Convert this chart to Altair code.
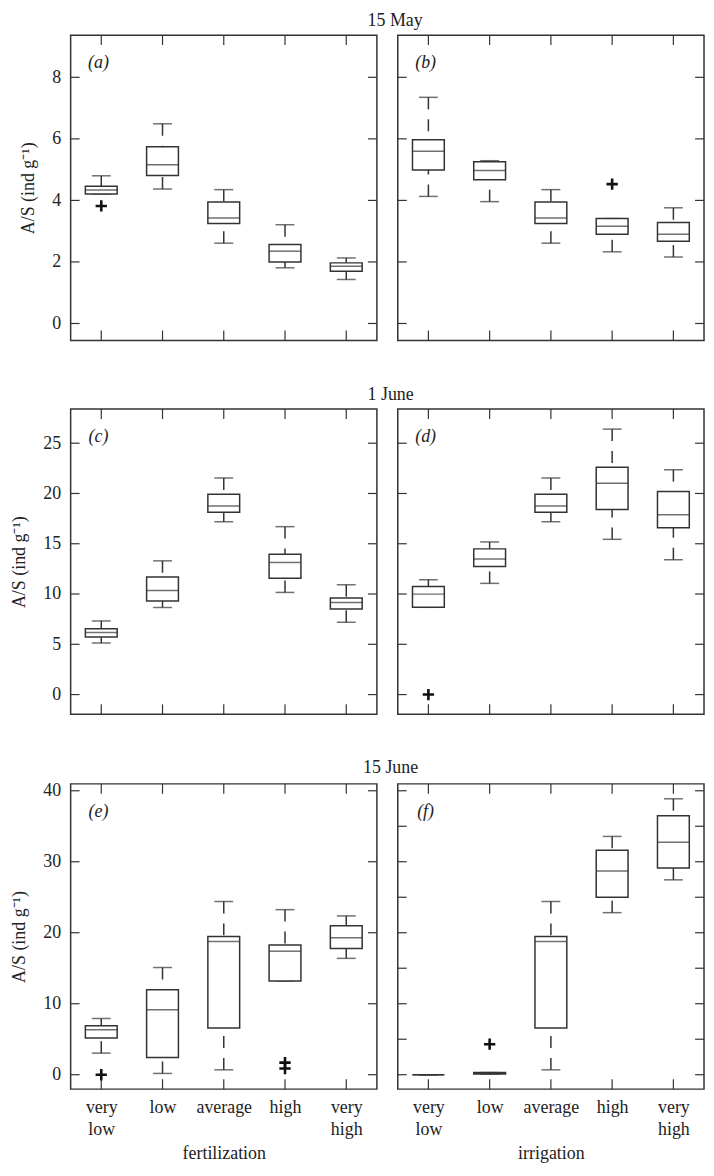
import altair as alt
import pandas as pd

cats = ["very low", "low", "average", "high", "very high"]

# panel (a) fertilization, 15 May
a_lo = [4.21, 4.37, 2.61, 1.81, 1.43]
a_q1 = [4.21, 4.81, 3.25, 2.00, 1.70]
a_med = [4.34, 5.16, 3.43, 2.35, 1.86]
a_q3 = [4.46, 5.74, 3.95, 2.57, 1.97]
a_hi = [4.80, 6.49, 4.35, 3.21, 2.13]
a_out_cat = ["very low"]
a_out_val = [3.82]

# panel (b) irrigation, 15 May
b_lo = [4.13, 3.96, 2.61, 2.33, 2.16]
b_q1 = [4.99, 4.67, 3.25, 2.90, 2.67]
b_med = [5.60, 4.97, 3.43, 3.16, 2.90]
b_q3 = [5.97, 5.26, 3.95, 3.41, 3.28]
b_hi = [7.35, 5.29, 4.35, 3.41, 3.76]
b_out_cat = ["high"]
b_out_val = [4.53]

# panel (c) fertilization, 1 June
c_lo = [5.13, 8.66, 17.19, 10.16, 7.19]
c_q1 = [5.72, 9.31, 18.14, 11.57, 8.50]
c_med = [6.18, 10.36, 18.76, 13.14, 9.15]
c_q3 = [6.54, 11.70, 19.93, 13.95, 9.61]
c_hi = [7.32, 13.30, 21.54, 16.70, 10.92]
c_out_cat = []
c_out_val = []

# panel (d) irrigation, 1 June
d_lo = [8.68, 11.06, 17.19, 15.44, 13.41]
d_q1 = [8.68, 12.73, 18.14, 18.41, 16.58]
d_med = [9.99, 13.48, 18.76, 21.02, 17.88]
d_q3 = [10.74, 14.49, 19.93, 22.62, 20.20]
d_hi = [11.42, 15.18, 21.54, 26.40, 22.36]
d_out_cat = ["very low"]
d_out_val = [0.0]

# panel (e) fertilization, 15 June
e_lo = [3.04, 0.18, 0.69, 13.21, 16.39]
e_q1 = [5.16, 2.44, 6.58, 13.21, 17.77]
e_med = [6.35, 9.16, 18.78, 17.40, 19.29]
e_q3 = [6.90, 11.97, 19.47, 18.27, 20.99]
e_hi = [7.92, 15.10, 24.40, 23.25, 22.37]
e_out_cat = ["very low", "high", "high"]
e_out_val = [0.0, 1.70, 0.87]

# panel (f) irrigation, 15 June
f_lo = [0.0, 0.1, 0.69, 22.83, 27.45]
f_q1 = [0.0, 0.1, 6.58, 25.01, 29.13]
f_med = [0.0, 0.2, 18.78, 28.68, 32.75]
f_q3 = [0.0, 0.3, 19.47, 31.62, 36.47]
f_hi = [0.0, 0.3, 24.40, 33.57, 38.87]
f_out_cat = ["low"]
f_out_val = [4.30]

ticks_ab = [0, 2, 4, 6, 8]
ticks_cd = [0, 5, 10, 15, 20, 25]
ticks_e = [0, 10, 20, 30, 40]
ticks_f = [0, 5, 10, 15, 20, 25, 30, 35, 40]

dom_ab = [-0.55, 9.37]
dom_cd = [-1.96, 28.4]
dom_ef = [-2.03, 40.97]

W = 308
H = 307
FONT = "Liberation Serif"
INK = "#333333"
YTITLE = "A/S (ind g\u207b\u00b9)"


def panel(label, lo, q1, med, q3, hi, out_cat, out_val, ydom, yticks,
          ylabels, xlabels, xtitle):
    df = pd.DataFrame({"cat": cats, "lo": lo, "q1": q1, "med": med,
                       "q3": q3, "hi": hi})
    odf = pd.DataFrame({"cat": out_cat, "v": out_val})
    tdf = pd.DataFrame({"t": yticks})
    cdf = pd.DataFrame({"cat": cats})

    xscale = alt.Scale(type="point", domain=cats, padding=0.5)
    yscale = alt.Scale(domain=ydom, nice=False, zero=False)
    if xlabels:
        xaxis = alt.Axis(title=xtitle, labelExpr="split(datum.label, ' ')",
                         labelAngle=0, labelPadding=10, labelLineHeight=22,
                         labelBaseline="top", titlePadding=6)
    else:
        xaxis = None
    if ylabels:
        yaxis = alt.Axis(title=YTITLE, values=yticks, labelPadding=10,
                         titlePadding=14)
    else:
        yaxis = None

    def X(f="cat"):
        return alt.X(f + ":N", scale=xscale, axis=xaxis, title=xtitle)

    def Y(f):
        return alt.Y(f + ":Q", scale=yscale, axis=yaxis, title=YTITLE)

    base = alt.Chart(df)
    up_wh = base.mark_rule(color=INK, strokeWidth=1.5, strokeDash=[12, 10]).encode(
        x=X(), y=Y("hi"), y2="q3:Q")
    lo_wh = base.mark_rule(color=INK, strokeWidth=1.5, strokeDash=[12, 10]).encode(
        x=X(), y=Y("lo"), y2="q1:Q")
    cap_hi = base.mark_tick(color=INK, size=19, thickness=1.5,
                            orient="horizontal").encode(x=X(), y=Y("hi"))
    cap_lo = base.mark_tick(color=INK, size=19, thickness=1.5,
                            orient="horizontal").encode(x=X(), y=Y("lo"))
    box = base.mark_bar(size=32, fill="white", stroke=INK,
                        strokeWidth=1.5).encode(x=X(), y=Y("q1"), y2="q3:Q")
    medt = base.mark_tick(color=INK, size=32, thickness=1.5,
                          orient="horizontal").encode(x=X(), y=Y("med"))
    layers = [up_wh, lo_wh, cap_hi, cap_lo, box, medt]
    if len(out_cat):
        outl = alt.Chart(odf).mark_point(
            shape="M-1,0L1,0M0,-1L0,1", size=130, strokeWidth=2.6,
            color="#111", filled=False, opacity=1).encode(x=X(), y=Y("v"))
        layers.append(outl)
    # inward ticks on all four sides
    yt_l = alt.Chart(tdf).mark_rule(color=INK, strokeWidth=1.2).encode(
        y=Y("t"), x=alt.value(0), x2=alt.value(9))
    yt_r = alt.Chart(tdf).mark_rule(color=INK, strokeWidth=1.2).encode(
        y=Y("t"), x=alt.value(W - 9), x2=alt.value(W))
    xt_t = alt.Chart(cdf).mark_rule(color=INK, strokeWidth=1.2).encode(
        x=X(), y=alt.value(0), y2=alt.value(10))
    xt_b = alt.Chart(cdf).mark_rule(color=INK, strokeWidth=1.2).encode(
        x=X(), y=alt.value(H - 10), y2=alt.value(H))
    lab = alt.Chart(pd.DataFrame({"l": [label]})).mark_text(
        font=FONT, fontSize=18, fontStyle="italic", color="#222",
        align="center", baseline="middle").encode(
        text="l:N", x=alt.value(28), y=alt.value(28))
    layers += [yt_l, yt_r, xt_t, xt_b, lab]
    return alt.layer(*layers).properties(width=W, height=H)


def row_title(t):
    return alt.TitleParams(t, anchor="middle", fontSize=18, font=FONT,
                           fontWeight="normal", color="#222", offset=4,
                           frame="bounds", dx=33)


pa = panel("(a)", a_lo, a_q1, a_med, a_q3, a_hi, a_out_cat, a_out_val,
           dom_ab, ticks_ab, True, False, "fertilization")
pb = panel("(b)", b_lo, b_q1, b_med, b_q3, b_hi, b_out_cat, b_out_val,
           dom_ab, ticks_ab, False, False, "irrigation")
pc = panel("(c)", c_lo, c_q1, c_med, c_q3, c_hi, c_out_cat, c_out_val,
           dom_cd, ticks_cd, True, False, "fertilization")
pd_ = panel("(d)", d_lo, d_q1, d_med, d_q3, d_hi, d_out_cat, d_out_val,
            dom_cd, ticks_cd, False, False, "irrigation")
pe = panel("(e)", e_lo, e_q1, e_med, e_q3, e_hi, e_out_cat, e_out_val,
           dom_ef, ticks_e, True, True, "fertilization")
pf = panel("(f)", f_lo, f_q1, f_med, f_q3, f_hi, f_out_cat, f_out_val,
           dom_ef, ticks_f, False, True, "irrigation")

row1 = alt.hconcat(pa, pb, spacing=17).properties(title=row_title("15 May"))
row2 = alt.hconcat(pc, pd_, spacing=17).properties(title=row_title("1 June"))
row3 = alt.hconcat(pe, pf, spacing=17).properties(title=row_title("15 June"))

chart = alt.vconcat(row1, row2, row3, spacing=43).properties(
    padding={"left": 2, "top": 0, "right": 0, "bottom": 0},
    background="white",
).configure_view(stroke=INK, strokeWidth=1.5).configure_axis(
    labelFont=FONT, titleFont=FONT, labelFontSize=18, titleFontSize=18,
    titleFontWeight="normal", labelColor="#222", titleColor="#222",
    ticks=False, tickSize=0, domain=False, grid=False,
).resolve_scale(x="independent", y="independent")

chart.save("out.html", embed_options={"renderer": "svg", "actions": False})
